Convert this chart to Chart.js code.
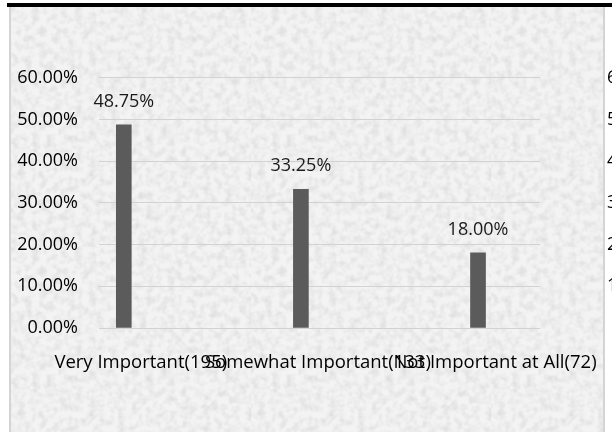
<!DOCTYPE html>
<html>
<head>
<meta charset="utf-8">
<title>Importance chart</title>
<script src="https://cdn.jsdelivr.net/npm/chart.js@4.4.1/dist/chart.umd.min.js"></script>
<style>
    html, body {
        margin: 0;
        padding: 0;
        background: #ffffff;
        overflow: hidden;
    }
    #frame {
        position: relative;
        width: 612px;
        height: 432px;
    }
    /* thick black rule along the top */
    .topbar {
        position: absolute;
        left: 7px;
        right: 0;
        top: 3px;
        height: 4px;
        background: #000000;
    }
    /* mottled grey chart area with light border */
    .panel {
        position: absolute;
        left: 9px;
        top: 7px;
        width: 592px;
        height: 425px;
        border-left: 2px solid #d4d4d4;
        border-right: 2px solid #d4d4d4;
        background-color: #eeeeee;
        background-image: url("data:image/svg+xml;utf8,<svg xmlns='http://www.w3.org/2000/svg' width='240' height='240'><filter id='n'><feTurbulence type='fractalNoise' baseFrequency='0.14' numOctaves='2' seed='4'/><feColorMatrix values='0 0 0 0 0.62  0 0 0 0 0.62  0 0 0 0 0.62  1.1 0 0 0 -0.42'/></filter><rect width='100%' height='100%' fill='%23f3f3f3'/><rect width='100%' height='100%' filter='url(%23n)'/></svg>");
    }
    #importanceChart {
        position: absolute;
        left: 0;
        top: 0;
    }
</style>
</head>
<body>
<div id="frame">
    <div class="panel"></div>
    <div class="topbar"></div>
    <canvas id="importanceChart" width="612" height="432"></canvas>
</div>
<script>
// Chart data
const categories = ['Very Important(195)', 'Somewhat Important(133)', 'Not Important at All(72)'];
const shares = [0.4875, 0.3325, 0.18];
const yTicks = [0, 0.1, 0.2, 0.3, 0.4, 0.5, 0.6];

const fontFamily = '"Open Sans", "Noto Sans", sans-serif';

function formatPct(v) {
    return (v * 100).toFixed(2) + '%';
}

// Value labels drawn above each bar
const barLabels = {
    id: 'barLabels',
    afterDatasetsDraw(chart) {
        const ctx = chart.ctx;
        const meta = chart.getDatasetMeta(0);
        ctx.save();
        ctx.font = '18px ' + fontFamily;
        ctx.fillStyle = '#1a1a1a';
        ctx.textAlign = 'center';
        ctx.textBaseline = 'middle';
        meta.data.forEach((bar, i) => {
            ctx.fillText(formatPct(shares[i]), bar.x, bar.y - 23);
        });
        ctx.restore();
    }
};

document.addEventListener('DOMContentLoaded', function() {
    if (typeof Chart === 'undefined') {
        console.error('Chart.js is not loaded');
        return;
    }

    const ctx = document.getElementById('importanceChart');

    new Chart(ctx, {
        type: 'bar',
        data: {
            datasets: [{
                label: 'Share',
                data: shares.map((v, i) => ({ x: i, y: v })),
                backgroundColor: '#5b5b5b',
                borderWidth: 0,
                barThickness: 15,
                yAxisID: 'y'
            }]
        },
        options: {
            responsive: false,
            animation: false,
            devicePixelRatio: 1,
            layout: {
                padding: { top: 67, left: 0, right: 0, bottom: 0 }
            },
            plugins: {
                legend: { display: false },
                tooltip: { enabled: false }
            },
            scales: {
                x: {
                    type: 'linear',
                    min: -0.14,
                    max: 2.35,
                    offset: false,
                    afterBuildTicks: axis => {
                        axis.ticks = categories.map((c, i) => ({ value: i }));
                    },
                    afterFit: axis => {
                        axis.height = 104;
                    },
                    grid: { display: false, offset: false },
                    border: { display: false },
                    ticks: {
                        autoSkip: false,
                        maxRotation: 0,
                        minRotation: 0,
                        labelOffset: 17,
                        padding: 16,
                        color: '#000000',
                        font: { family: fontFamily, size: 18.5 },
                        callback: (value, index) => categories[index]
                    }
                },
                y: {
                    position: 'left',
                    min: 0,
                    max: 0.6,
                    afterBuildTicks: axis => {
                        axis.ticks = yTicks.map(v => ({ value: v }));
                    },
                    afterFit: axis => {
                        axis.width = 99;
                    },
                    grid: {
                        color: '#d2d2d2',
                        lineWidth: 1,
                        drawTicks: false
                    },
                    border: { display: false },
                    ticks: {
                        padding: 21,
                        color: '#000000',
                        font: { family: fontFamily, size: 18 },
                        callback: v => formatPct(v)
                    }
                },
                y2: {
                    position: 'right',
                    min: 0,
                    max: 0.6,
                    afterBuildTicks: axis => {
                        axis.ticks = yTicks.filter(v => v > 0).map(v => ({ value: v }));
                    },
                    afterFit: axis => {
                        axis.width = 72;
                    },
                    grid: { drawOnChartArea: false, drawTicks: false },
                    border: { display: false },
                    ticks: {
                        padding: 67,
                        color: '#000000',
                        font: { family: fontFamily, size: 18 },
                        callback: v => formatPct(v)
                    }
                }
            }
        },
        plugins: [barLabels]
    });
});
</script>
</body>
</html>
